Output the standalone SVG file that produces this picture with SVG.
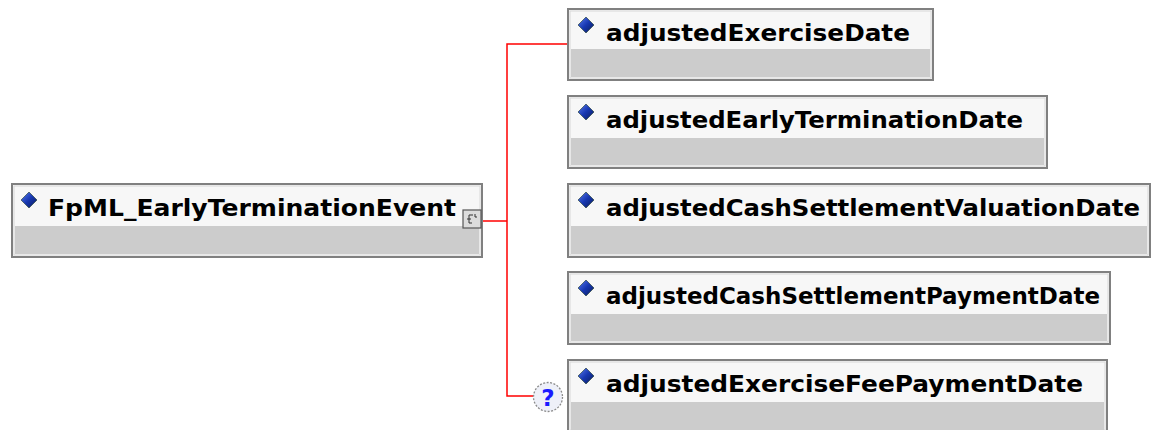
<svg xmlns="http://www.w3.org/2000/svg" width="1154" height="430" viewBox="0 0 1154 430">
<defs>
<style>
.frame{fill:#f7f7f7;stroke:#808080;stroke-width:2}
.inner{fill:none;stroke:#d8d8d8;stroke-width:1}
.body{fill:#cccccc}
.lbl{font-family:"DejaVu Sans","Liberation Sans",sans-serif;font-weight:bold;font-size:22.5px;fill:#000}
.conn{fill:none;stroke:#ff0000;stroke-width:1.5}
</style>
<linearGradient id="dg" x1="0" y1="0" x2="1" y2="1">
<stop offset="0" stop-color="#5b7cf0"/>
<stop offset="0.5" stop-color="#1737b0"/>
<stop offset="1" stop-color="#0b1c55"/>
</linearGradient>
<polygon id="diamond" points="0,-8 8,0 0,8 -8,0" fill="url(#dg)" stroke="#1f3b2a" stroke-width="0.6"/>
</defs>
<rect width="1154" height="430" fill="#ffffff"/>

<g id="connectors">
<polyline class="conn" points="482,221 507,221"/>
<polyline class="conn" points="567,44 507,44 507,396 533,396"/>
</g>

<g id="root">
<rect class="frame" x="12" y="184" width="470" height="73"/>
<rect class="inner" x="14" y="186" width="466" height="69"/>
<rect class="body" x="15" y="226" width="464" height="28"/>
<use href="#diamond" x="29" y="200"/>
<text class="lbl" x="48" y="216" textLength="408" lengthAdjust="spacingAndGlyphs">FpML_EarlyTerminationEvent</text>
<rect x="463" y="210" width="18" height="18" fill="#dcdcdc" stroke="#555555" stroke-width="1.2"/>
<path d="M469,215 h4 M469,215 v8 M467,219 h4 M469,223 h3 M475,214 v3 h2" fill="none" stroke="#333333" stroke-width="1"/>
</g>

<g id="n1">
<rect class="frame" x="568" y="9" width="365" height="71"/>
<rect class="inner" x="570" y="11" width="361" height="67"/>
<rect class="body" x="571" y="49" width="359" height="28"/>
<use href="#diamond" x="586" y="25"/>
<text class="lbl" x="606" y="41" textLength="304" lengthAdjust="spacingAndGlyphs">adjustedExerciseDate</text>
</g>

<g id="n2">
<rect class="frame" x="568" y="96" width="479" height="72"/>
<rect class="inner" x="570" y="98" width="475" height="68"/>
<rect class="body" x="571" y="138" width="473" height="27"/>
<use href="#diamond" x="586" y="112"/>
<text class="lbl" x="606" y="128" textLength="417" lengthAdjust="spacingAndGlyphs">adjustedEarlyTerminationDate</text>
</g>

<g id="n3">
<rect class="frame" x="568" y="184" width="582" height="73"/>
<rect class="inner" x="570" y="186" width="578" height="69"/>
<rect class="body" x="571" y="226" width="576" height="28"/>
<use href="#diamond" x="586" y="200"/>
<text class="lbl" x="606" y="216" textLength="534" lengthAdjust="spacingAndGlyphs">adjustedCashSettlementValuationDate</text>
</g>

<g id="n4">
<rect class="frame" x="568" y="272" width="542" height="72"/>
<rect class="inner" x="570" y="274" width="538" height="68"/>
<rect class="body" x="571" y="314" width="536" height="27"/>
<use href="#diamond" x="586" y="288"/>
<text class="lbl" x="606" y="304" textLength="494" lengthAdjust="spacingAndGlyphs">adjustedCashSettlementPaymentDate</text>
</g>

<g id="n5">
<rect class="frame" x="568" y="360" width="539" height="72"/>
<rect class="inner" x="570" y="362" width="535" height="68"/>
<rect class="body" x="571" y="402" width="533" height="28"/>
<use href="#diamond" x="586" y="376"/>
<text class="lbl" x="606" y="392" textLength="477" lengthAdjust="spacingAndGlyphs">adjustedExerciseFeePaymentDate</text>
</g>

<g id="optional">
<circle cx="548" cy="397" r="14.5" fill="#eef0f8" stroke="#8a8a8a" stroke-width="1.3" stroke-dasharray="2,1.5"/>
<text x="548" y="406" text-anchor="middle" style="font-family:'DejaVu Sans','Liberation Sans',sans-serif;font-weight:bold;font-size:23px;fill:#1a1aff">?</text>
</g>
</svg>
